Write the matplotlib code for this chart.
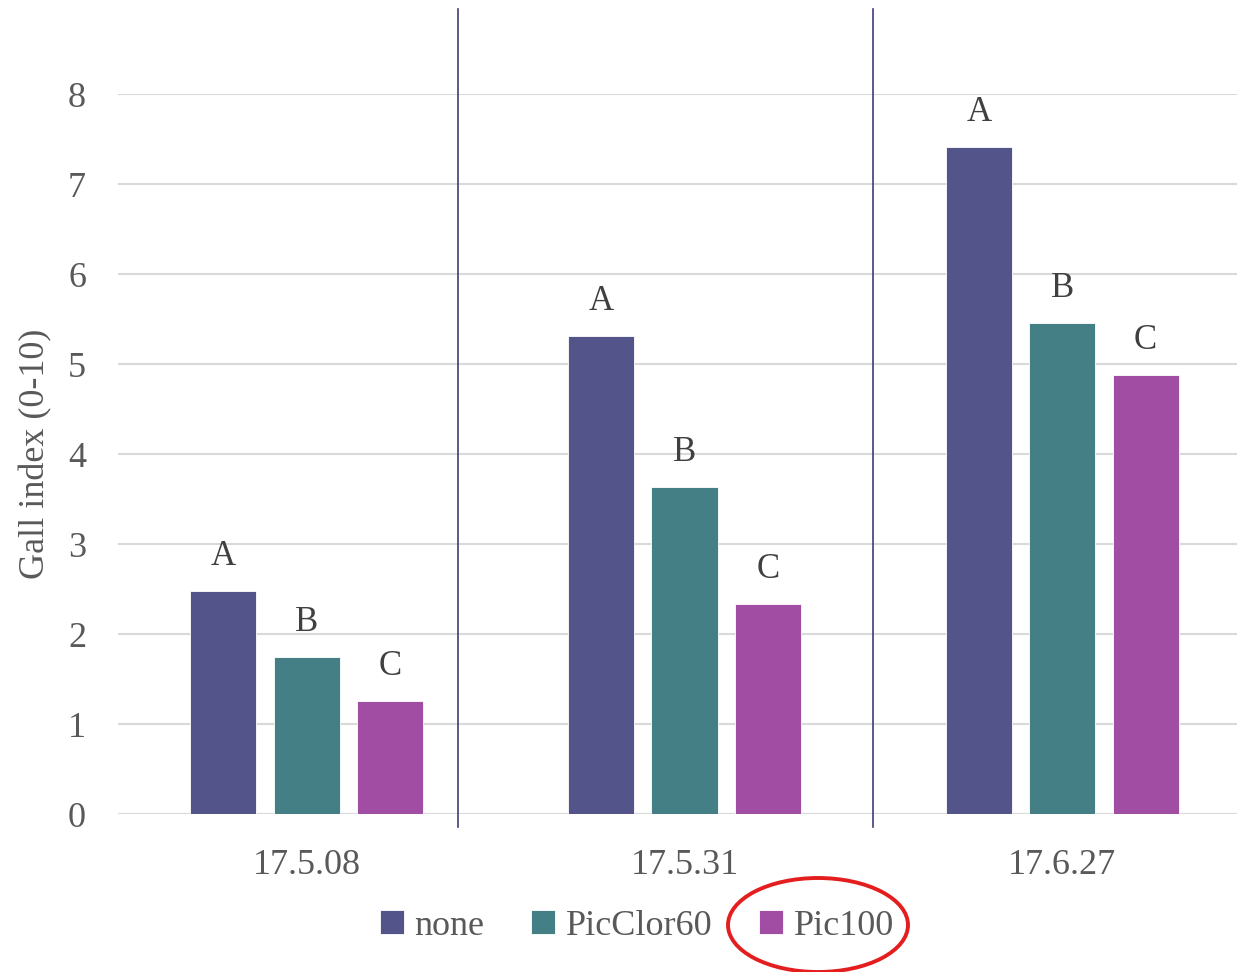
import numpy as np
import matplotlib
matplotlib.use("Agg")
import matplotlib.pyplot as plt
from matplotlib.patches import Ellipse

DATES   = ["17.5.08", "17.5.31", "17.6.27"]
SERIES  = ["none", "PicClor60", "Pic100"]
COLORS  = ["#53548A", "#437F84", "#A04DA3"]
VALUES  = [
    [2.48, 5.31, 7.41],   # none
    [1.74, 3.63, 5.46],   # PicClor60
    [1.26, 2.33, 4.88],   # Pic100
]
LETTERS = [
    ["A", "A", "A"],
    ["B", "B", "B"],
    ["C", "C", "C"],
]
YTICKS  = [0, 1, 2, 3, 4, 5, 6, 7, 8]
DIVIDERS = [0.40, 1.50]   # vertical separators between sampling dates

plt.rcParams["font.family"] = ["Liberation Serif", "DejaVu Serif"]
TXT = "#595959"

fig = plt.figure(figsize=(12.37, 9.72), dpi=100)
# axes runs a little past the right edge of the figure
ax = fig.add_axes([118 / 1237, 1 - 814 / 972, 1133 / 1237, 720 / 972])

x = np.arange(len(DATES))
step, width = 0.221, 0.175
for i, (name, col) in enumerate(zip(SERIES, COLORS)):
    pos = x + (i - 1) * step
    ax.bar(pos, VALUES[i], width, color=col, edgecolor="white",
           linewidth=0.6, label=name, zorder=3)
    for xp, v, s in zip(pos, VALUES[i], LETTERS[i]):
        ax.text(xp, v + 0.2, s, ha="center", va="bottom",
                fontsize=25, color="#404040")

ax.set_xlim(-0.5, 2.5)
ax.set_ylim(0, 8)
ax.set_yticks(YTICKS)
ax.set_yticklabels([str(t) for t in YTICKS], fontsize=26, color=TXT)
ax.set_xticks(x)
ax.set_xticklabels(DATES, fontsize=26, color=TXT)
ax.tick_params(axis="x", length=0, pad=25)
ax.tick_params(axis="y", length=0, pad=23)
ax.yaxis.grid(True, color="#D9D9D9", linewidth=1.5, zorder=0)
for s in ax.spines.values():
    s.set_visible(False)
ax.axhline(0, color="#D9D9D9", linewidth=1.5, zorder=2)

ax.set_ylabel("Gall index (0-10)", fontsize=26, color=TXT, va="center")
ax.yaxis.set_label_coords(-0.073, 0.5)

for d in DIVIDERS:
    ax.plot([d, d], [-0.14, 8.95], color="#3E3E78", linewidth=1.2,
            clip_on=False, zorder=4)

leg = fig.legend(*ax.get_legend_handles_labels(), loc="center",
                 bbox_to_anchor=(637 / 1237, 1 - 926 / 972), ncol=3,
                 frameon=False, fontsize=26, handlelength=0.65,
                 handleheight=0.65, handletextpad=0.3, columnspacing=1.3)
for t in leg.get_texts():
    t.set_color(TXT)

# red highlight around the Pic100 entry
fig.add_artist(Ellipse((818 / 1237, 1 - 925 / 972), 180 / 1237, 94 / 972,
                       transform=fig.transFigure, fill=False,
                       edgecolor="#E41E1E", linewidth=2.8))

fig.savefig("out.png", dpi=100)
